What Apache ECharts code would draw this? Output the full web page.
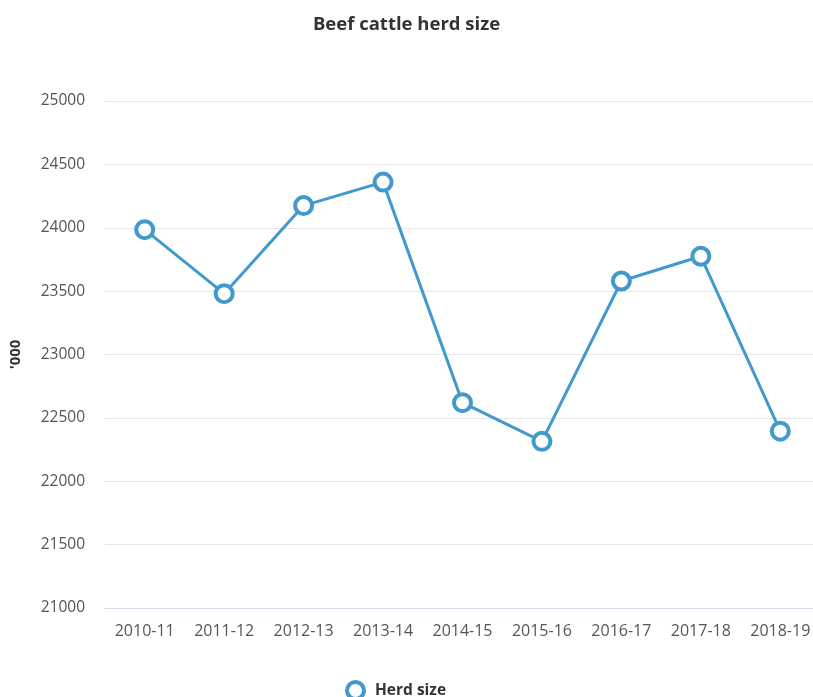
<!DOCTYPE html>
<html>
<head>
<meta charset="utf-8">
<script src="https://cdn.jsdelivr.net/npm/echarts@6/dist/echarts.min.js"></script>
<style>
  html, body { margin: 0; padding: 0; background: #fff; }
  #chart { width: 813px; height: 697px; }
</style>
</head>
<body>
<div id="chart"></div>
<script>
const categories = ["2010-11", "2011-12", "2012-13", "2013-14", "2014-15", "2015-16", "2016-17", "2017-18", "2018-19"];
const herdSize = [23985, 23480, 24175, 24360, 22620, 22315, 23580, 23775, 22395];
const yMin = 21000;
const yMax = 25000;
const yStep = 500;

const lineColor = "#4199cc";
const font = "'Open Sans', 'Noto Sans', sans-serif";

const chart = echarts.init(document.getElementById("chart"));
chart.setOption({
  animation: false,
  title: {
    text: "Beef cattle herd size",
    left: "center",
    top: 10,
    textStyle: { fontFamily: font, fontSize: 18.5, fontWeight: "bold", color: "#333" },
  },
  grid: { left: 105, width: 715, top: 101, bottom: 89, outerBoundsMode: "none", containLabel: false },
  legend: {
    top: 675,
    left: 340,
    icon: "circle",
    itemWidth: 17,
    itemHeight: 17,
    itemGap: 6,
    itemStyle: { color: "#fff", borderColor: lineColor, borderWidth: 4 },
    textStyle: { fontFamily: font, fontSize: 15.5, fontWeight: "bold", color: "#333", padding: [0, 0, 0, 6] },
  },
  xAxis: {
    type: "category",
    data: categories,
    axisLine: { lineStyle: { color: "#d3daf0" } },
    axisTick: { show: false },
    axisLabel: { fontFamily: font, fontSize: 16, color: "#555", margin: 15 },
  },
  yAxis: {
    type: "value",
    min: yMin,
    max: yMax,
    interval: yStep,
    name: "'000",
    nameLocation: "middle",
    nameGap: 82,
    nameTextStyle: { fontFamily: font, fontSize: 15, fontWeight: "bold", color: "#333" },
    axisLine: { show: false },
    axisTick: { show: false },
    axisLabel: { fontFamily: font, fontSize: 15.5, color: "#555", margin: 20, formatter: (v) => String(v) },
    splitLine: { lineStyle: { color: "#e6e6e6" } },
  },
  series: [
    {
      name: "Herd size",
      type: "line",
      data: herdSize,
      symbol: "circle",
      symbolSize: 17,
      lineStyle: { color: lineColor, width: 3 },
      itemStyle: { color: "#fff", borderColor: lineColor, borderWidth: 4 },
    },
  ],
});
</script>
</body>
</html>
